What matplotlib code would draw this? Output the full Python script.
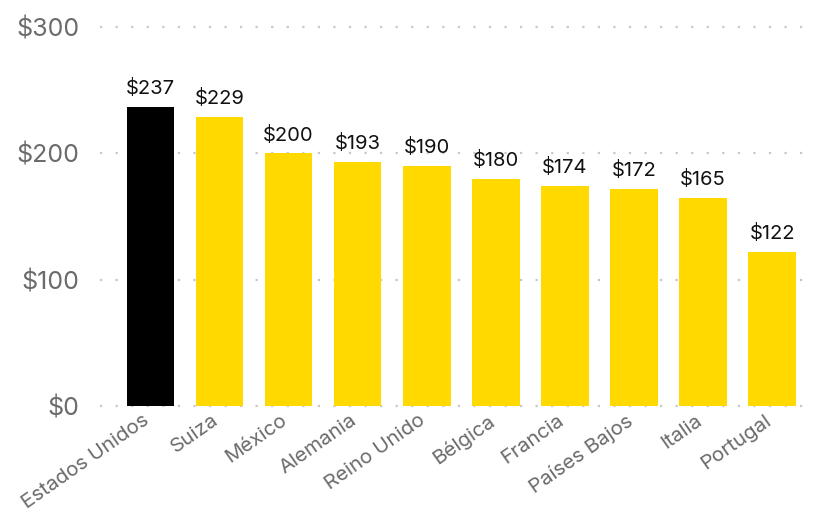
import matplotlib.pyplot as plt
import matplotlib.transforms as mtransforms

# price per country (USD)
countries = ['Estados Unidos', 'Suiza', 'México', 'Alemania', 'Reino Unido',
             'Bélgica', 'Francia', 'Países Bajos', 'Italia', 'Portugal']
prices = [237, 229, 200, 193, 190, 180, 174, 172, 165, 122]
yticks = [0, 100, 200, 300]

plt.rcParams['font.family'] = ['Inter', 'DejaVu Sans']

colors = ['#000000'] + ['#FFD900'] * (len(prices) - 1)

fig = plt.figure(figsize=(8.19, 5.13), dpi=100)
ax = fig.add_axes([0.122, 0.2086, 0.873, 0.7384])

x = range(len(countries))
bars = ax.bar(x, prices, width=0.69, color=colors, zorder=3)

for xi, v in zip(x, prices):
    ax.text(xi, v + 7, '$%d' % v, ha='center', va='bottom',
            fontsize=14.5, color='#111111')

ax.set_ylim(0, 300)
ax.set_xlim(-0.73, 9.62)
ax.set_yticks(yticks)
ax.set_yticklabels(['$%d' % t for t in yticks])
ax.tick_params(axis='y', length=0, pad=15, labelsize=18, labelcolor='#6b6b6b')
ax.set_xticks(list(x))
ax.set_xticklabels(countries, rotation=35, ha='right', rotation_mode='anchor',
                   fontsize=14.8, color='#6b6b6b')
ax.tick_params(axis='x', length=0, pad=6)

# nudge the rotated labels so their ends sit just left of the bar centres
offset = mtransforms.ScaledTranslation(-0.08, 0.03, fig.dpi_scale_trans)
for lbl in ax.get_xticklabels():
    lbl.set_transform(lbl.get_transform() + offset)

for t in yticks:
    ax.axhline(t, color='#c8c8c8', linewidth=1.6, linestyle=(0, (1, 6)),
               zorder=1, clip_on=False)

for s in ax.spines.values():
    s.set_visible(False)

fig.savefig('out.png', dpi=100)
